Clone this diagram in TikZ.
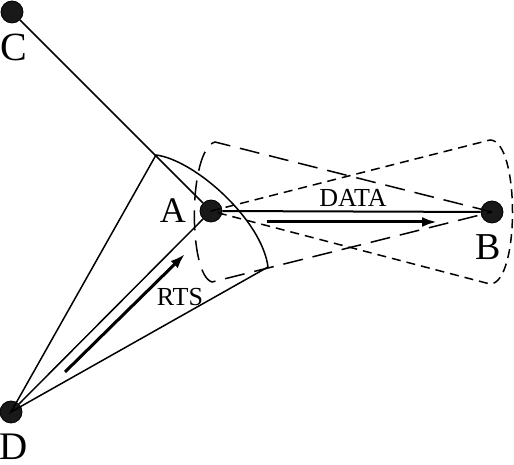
\documentclass[tikz,border=0pt]{standalone}
\usepackage{fontspec}
\setmainfont{Liberation Serif}
\usetikzlibrary{arrows.meta}

\begin{document}
\begin{tikzpicture} [x=0.5pt, y=0.5pt,
    station/.style={draw, circle, fill=black!90, inner sep=0pt, minimum size=11pt},
    every label/.style={inner sep=1pt},
    link/.style={line width=0.75pt},
    beam/.style={line width=0.75pt},
    msg/.style={line width=1.5pt, -{Latex[length=7.5pt, width=5pt]}},
    tag/.style={font=\fontsize{13}{15}\selectfont} ]
    \useasboundingbox (0,0) rectangle (514,465);

    \foreach \Name/\Point/\Side/\Dist/\Dx/\Size in {C/{(12,453)}/below/4.2pt/1pt/20, A/{(211,254)}/left/5.7pt/0pt/18,
                                                   B/{(492,253)}/below/4.2pt/-2pt/19, D/{(11,53)}/below/4pt/1.5pt/19.5}{
        \node [station, label={[label distance=\Dist, xshift=\Dx, font=\fontsize{\Size}{\Size}\selectfont]\Side:\Name}] (\Name) at \Point {};
    }

    % antenna beams
    \draw [beam] (D.center) -- (156,310) .. controls (195,305) and (262,245) .. (268,198) -- cycle;
    \draw [beam, dash pattern=on 4.5pt off 3pt] (A.center) -- (490,325) .. controls (520,325) and (520,181) .. (490,181) -- cycle;
    \draw [beam, dash pattern=on 10pt off 5pt] (B.center) -- (215,323) .. controls (188,315) and (188,190) .. (212,183) -- cycle;

    \draw [link] (C) -- (A);
    \draw [link] (D) -- (A);
    \draw [link, line width=1pt] (A) -- (B);

    \coordinate (rts0) at (65,93);
    \coordinate (rts1) at (185,211);
    \coordinate (data0) at (267,243);
    \coordinate (data1) at (437,243);
    \draw [msg] (rts0) -- (rts1);
    \draw [msg] (data0) -- (data1);
    \node [tag] (rts) at (180,168) {RTS};
    \node [tag] (data) at (353,267) {DATA};
\end{tikzpicture}
\end{document}
